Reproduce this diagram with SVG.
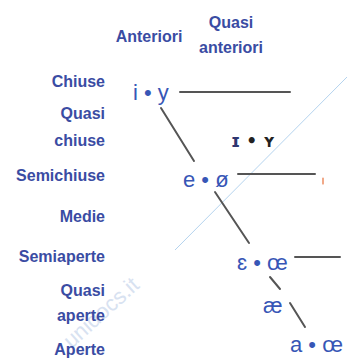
<svg xmlns="http://www.w3.org/2000/svg" width="347" height="360" viewBox="0 0 347 360">
<style>
.lbl{font-family:"Liberation Sans",Arial,sans-serif;font-weight:bold;font-size:16px;fill:#3a4ca3}
.l{text-anchor:end}
.c{text-anchor:middle}
.sym{font-family:"Liberation Sans",Arial,sans-serif;font-size:22px;fill:#3756b6}
.conn line{stroke:#555;stroke-width:2;stroke-linecap:round}
</style>
<rect width="347" height="360" fill="#fff"/>
<g id="watermark">
<line x1="347" y1="77" x2="175" y2="250" stroke="#b4d3ee" stroke-width="1"/>
<text x="106" y="318" transform="rotate(-42 106 318)" text-anchor="middle" font-family="Liberation Sans,Arial,sans-serif" font-size="22" fill="#d8e2f1">unidocs.it</text>
</g>
<g id="col-anteriori"><text class="lbl c" x="149" y="42">Anteriori</text></g>
<g id="col-quasi-anteriori"><text class="lbl c" x="231" y="28">Quasi</text><text class="lbl c" x="231" y="53">anteriori</text></g>
<g id="row-chiuse"><text class="lbl l" x="105" y="87">Chiuse</text></g>
<g id="row-quasi-chiuse"><text class="lbl l" x="105" y="119">Quasi</text><text class="lbl l" x="105" y="146">chiuse</text></g>
<g id="row-semichiuse"><text class="lbl l" x="105" y="181">Semichiuse</text></g>
<g id="row-medie"><text class="lbl l" x="105" y="222">Medie</text></g>
<g id="row-semiaperte"><text class="lbl l" x="105" y="262">Semiaperte</text></g>
<g id="row-quasi-aperte"><text class="lbl l" x="105" y="296">Quasi</text><text class="lbl l" x="105" y="321">aperte</text></g>
<g id="row-aperte"><text class="lbl l" x="105" y="355">Aperte</text></g>
<g id="v-i-y"><text class="sym" x="133" y="100">i • y</text></g>
<g id="v-I-Y"><text x="231" y="147" font-family="DejaVu Sans,sans-serif" font-weight="bold" font-size="17"><tspan fill="#2f3670">ɪ</tspan><tspan fill="#222"> • ʏ</tspan></text></g>
<g id="v-e-o"><text class="sym" x="183" y="187">e • ø</text></g>
<g id="v-E-oe"><text class="sym" x="237" y="270">ɛ • œ</text></g>
<g id="v-ae"><text class="sym" x="263" y="313">æ</text></g>
<g id="v-a-oe"><text class="sym" x="290" y="352">a • œ</text></g>
<g id="connectors" class="conn">
<line x1="180" y1="92" x2="290" y2="92"/>
<line x1="161" y1="108" x2="194" y2="161"/>
<line x1="238" y1="174" x2="315" y2="174"/>
<line x1="215" y1="192" x2="249" y2="243"/>
<line x1="295" y1="257" x2="340" y2="257"/>
<line x1="270" y1="277" x2="280" y2="289"/>
<line x1="290" y1="303" x2="305" y2="327"/>
<line x1="323" y1="178" x2="323" y2="184" style="stroke:#e8703a;stroke-width:1.2"/>
</g>
</svg>
